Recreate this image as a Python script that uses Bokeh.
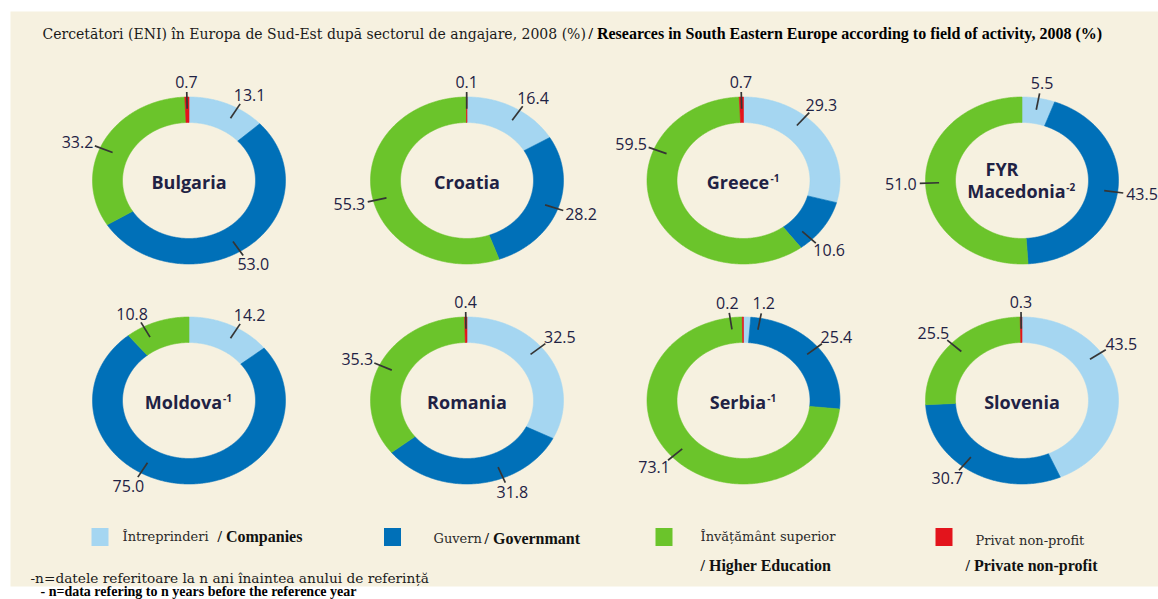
import numpy as np
from bokeh.plotting import figure
from bokeh.models import Range1d, ColumnDataSource
from bokeh.core.properties import value
from bokeh.embed import file_html
from bokeh.resources import INLINE

# ---------------- data ----------------
countries = ["Bulgaria", "Croatia", "Greece", "FYR Macedonia",
             "Moldova", "Romania", "Serbia", "Slovenia"]
superscripts = ["", "", "-1", "-2", "-1", "", "-1", ""]
sectors = ["Companies", "Government", "Higher Education", "Private non-profit"]
companies = [13.1, 16.4, 29.3, 5.5, 14.2, 32.5, 1.2, 43.5]
government = [53.0, 28.2, 10.6, 43.5, 75.0, 31.8, 25.4, 30.7]
higher_education = [33.2, 55.3, 59.5, 51.0, 10.8, 35.3, 73.1, 25.5]
private_nonprofit = [0.7, 0.1, 0.7, 0.0, 0.0, 0.4, 0.2, 0.3]
legend_ro = ["Întreprinderi", "Guvern", "Învățământ superior", "Privat non-profit"]
legend_en = ["/ Companies", "/ Governmant", "/ Higher Education", "/ Private non-profit"]
title_ro = "Cercetători (ENI) în Europa de Sud-Est după sectorul de angajare, 2008 (%)"
title_en = "/ Researces in South Eastern Europe according to field of activity, 2008 (%)"
note_ro = "-n=datele referitoare la  n ani înaintea anului de referință"
note_en = "- n=data refering to n years before the reference year"

# ---------------- style / layout ----------------
COLORS = ["#a5d6f1", "#0070b8", "#6bc42b", "#e3141c"]
BG = "#f6f1e0"
NAVY = "#1f2244"
W, H = 1158, 599
COL_X = [188.5, 466.5, 743.0, 1021.5]
ROW_Y = [180.0, 400.0]
RX_OUT, RY_OUT = 96.5, 83.5
RX_IN, RY_IN = 66.5, 58.0
LABEL_ANGLE = {
    ("Bulgaria", 0): 30, ("Bulgaria", 1): 148, ("Bulgaria", 2): 293, ("Croatia", 0): 33,
    ("Croatia", 2): 256, ("Greece", 0): 40, ("Greece", 1): 135, ("Greece", 2): 292,
    ("Moldova", 0): 30, ("Moldova", 1): 210, ("Moldova", 2): 332,
    ("Romania", 0): 50, ("Romania", 1): 158,
    ("Serbia", 0): 10, ("Serbia", 3): 352,
    ("Slovenia", 0): 55, ("Slovenia", 1): 218,
}
OS_BOLD = {"a": .586, "b": .627, "c": .514, "d": .627, "e": .593, "g": .561, "i": .301,
           "l": .301, "n": .639, "o": .619, "r": .436, "s": .499, "t": .420, "u": .639,
           "v": .565, "B": .675, "C": .637, "G": .727, "M": .907, "R": .654, "S": .551,
           "F": .573, "Y": .613}
RO_FONT = value("DejaVu Serif")
EN_FONT = value("Liberation Serif")


def est_w(s, size):
    return sum(OS_BOLD.get(c, 0.6) for c in s) * size


p = figure(width=W, height=H, x_range=Range1d(0, W), y_range=Range1d(H, 0),
           output_backend="svg", toolbar_location=None, x_axis_type=None, y_axis_type=None,
           min_border=0)
p.grid.visible = False
p.outline_line_color = None
p.background_fill_color = "white"
p.border_fill_color = "white"

p.quad(left=[10], right=[W], top=[11], bottom=[586], fill_color=BG, line_color=None)

series = [companies, government, higher_education, private_nonprofit]

pxs, pys, pcol = [], [], []
lx0, ly0, lx1, ly1 = [], [], [], []
tx, ty, tt = [], [], []
for i, c in enumerate(countries):
    cx = COL_X[i % 4]
    cy = ROW_Y[i // 4]
    vals = [s[i] for s in series]
    total = sum(vals)
    start = 0.0
    for k, v in enumerate(vals):
        if v <= 0:
            continue
        a0 = start / total * 360.0
        a1 = (start + v) / total * 360.0
        start += v
        n = max(3, int((a1 - a0) * 2) + 2)
        th = np.radians(np.linspace(a0, a1, n))
        xs = np.concatenate([cx + RX_OUT * np.sin(th), cx + RX_IN * np.sin(th[::-1])])
        ys = np.concatenate([cy - RY_OUT * np.cos(th), cy - RY_IN * np.cos(th[::-1])])
        pxs.append(list(xs)); pys.append(list(ys)); pcol.append(COLORS[k])
        mid = LABEL_ANGLE.get((c, k), (a0 + a1) / 2.0)
        t = np.radians(mid)
        ux, uy = np.sin(t), -np.cos(t)
        lx0.append(cx + 0.86 * RX_OUT * ux); ly0.append(cy + 0.86 * RY_OUT * uy)
        ex, ey = cx + 1.06 * RX_OUT * ux, cy + 1.06 * RY_OUT * uy
        lx1.append(ex); ly1.append(ey)
        label = f"{v:.1f}"
        hw = (sum(4.3 if ch == "." else 9.15 for ch in label)) / 2.0
        hh = 7.0
        tx.append(ex + ux * (3 + hw)); ty.append(ey + uy * (3 + hh)); tt.append(label)

p.patches(xs="xs", ys="ys", fill_color="c", line_color="c", line_width=0.6,
          source=ColumnDataSource(dict(xs=pxs, ys=pys, c=pcol)))
p.segment(x0=lx0, y0=ly0, x1=lx1, y1=ly1, line_color="#353535", line_width=1.7)
p.text(x=tx, y=ty, text=tt, text_align="center", text_baseline="middle",
       text_font=value("Open Sans"), text_font_size="16px", text_color=NAVY)

# country names
nx, ny, nt, sx, sy, st = [], [], [], [], [], []
for i, c in enumerate(countries):
    cx = COL_X[i % 4]
    cy = ROW_Y[i // 4] + 1
    sup = superscripts[i]
    sup_w = 11 if sup else 0
    if c == "FYR Macedonia":
        nx.append(cx - 20); ny.append(cy - 13); nt.append("FYR")
        name = "Macedonia"; ycur = cy + 9
    else:
        name = c; ycur = cy
    ncx = cx - sup_w / 2.0
    nx.append(ncx); ny.append(ycur); nt.append(name)
    if sup:
        sx.append(ncx + est_w(name, 18) / 2.0 + 1.5); sy.append(ycur - 4); st.append(sup)

p.text(x=nx, y=ny, text=nt, text_align="center", text_baseline="middle",
       text_font=value("Open Sans"), text_font_size="18px", text_font_style="bold",
       text_color=NAVY)
p.text(x=sx, y=sy, text=st, text_align="left", text_baseline="middle",
       text_font=value("Open Sans"), text_font_size="10px", text_font_style="bold",
       text_color=NAVY)

# title
p.text(x=[42], y=[33], text=[title_ro], text_align="left", text_baseline="middle",
       text_font=RO_FONT, text_font_size="14px", text_color="#1a1a1a")
p.text(x=[588], y=[33], text=[title_en], text_align="left", text_baseline="middle",
       text_font=EN_FONT, text_font_size="16px", text_font_style="bold",
       text_color="#000000")

# legend
sq_x = [99.5, 392.0, 663.5, 943.5]
p.rect(x=sq_x, y=[536.5] * 4, width=17, height=18, fill_color=COLORS, line_color=None)
p.text(x=[122, 433, 700, 975], y=[536, 538, 536, 540], text=legend_ro, text_align="left",
       text_baseline="middle", text_font=RO_FONT, text_font_size="13px",
       text_color="#2a2a2a")
p.text(x=[217, 484], y=[536, 538], text=legend_en[:2], text_align="left",
       text_baseline="middle", text_font=EN_FONT, text_font_size="16px",
       text_font_style="bold", text_color="#111111")
p.text(x=[700, 965], y=[565, 565], text=legend_en[2:], text_align="left",
       text_baseline="middle", text_font=EN_FONT, text_font_size="16px",
       text_font_style="bold", text_color="#111111")

# footnotes
p.text(x=[30], y=[577], text=[note_ro], text_align="left", text_baseline="middle",
       text_font=RO_FONT, text_font_size="13.7px", text_color="#1a1a1a")
p.text(x=[40], y=[591], text=[note_en], text_align="left", text_baseline="middle",
       text_font=EN_FONT, text_font_size="14px", text_font_style="bold",
       text_color="#000000")

open("out.html", "w").write(file_html(p, INLINE))
